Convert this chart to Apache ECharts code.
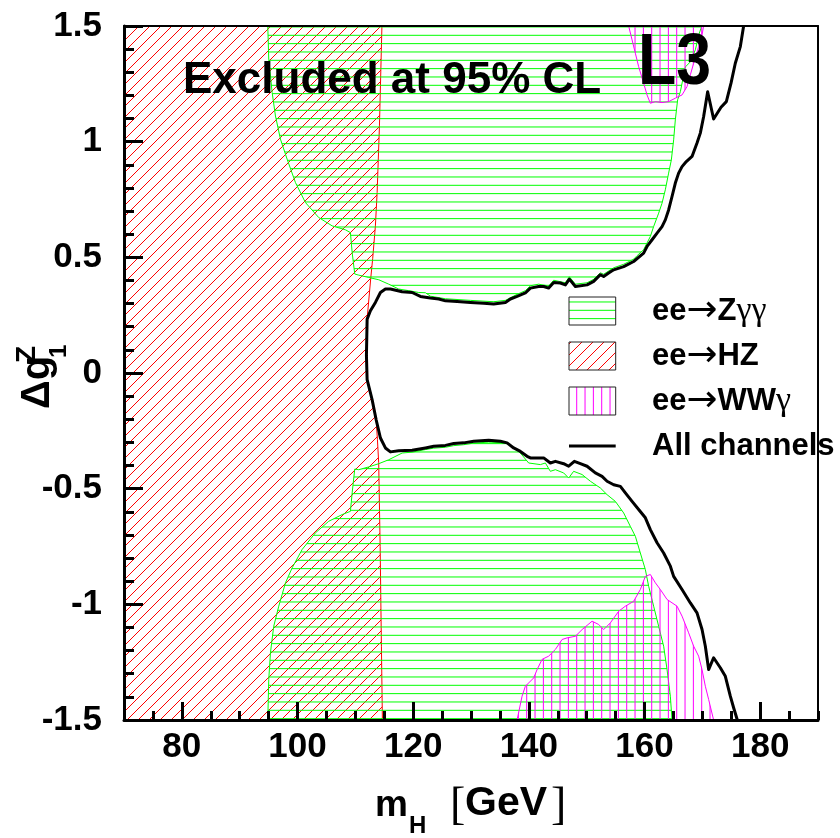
<!DOCTYPE html>
<html>
<head>
<meta charset="utf-8">
<script src="https://cdn.jsdelivr.net/npm/echarts@6/dist/echarts.min.js"></script>
<style>
html, body { margin: 0; padding: 0; background: #fff; }
#chart { width: 840px; height: 838px; }
</style>
</head>
<body>
<div id="chart"></div>
<script>
// Higgs mass axis: labelled ticks and the plotted range
const massRange = [70, 190];
const massLabelTicks = [80, 100, 120, 140, 160, 180];
const couplingRange = [-1.5, 1.5];

// ee -> HZ excluded region: mH below the right-hand contour
const hzRegion = [
  [70, 1.5], [114.6, 1.5], [114.17, 1.068], [113.77, 0.780], [113.47, 0.636],
  [113.0, 0.494], [112.66, 0.408], [112.04, 0.235], [111.92, 0.075], [112.04, -0.029],
  [112.9, -0.115], [113.6, -0.202], [113.82, -0.288], [114.04, -0.388], [114.29, -0.749],
  [114.51, -1.181], [114.68, -1.5], [70, -1.5]
];

// ee -> Z gamma gamma excluded region, positive coupling side
const zggUpper = [
  [94.86, 1.5], [169.9, 1.5], [169.48, 1.469], [168.79, 1.397], [167.93, 1.345],
  [167.06, 1.323], [166.2, 1.216], [165.73, 1.181], [165.33, 1.094], [165.04, 1.008],
  [164.64, 0.921], [164.17, 0.864], [163.6, 0.792], [163.03, 0.734], [162.45, 0.691],
  [161.58, 0.633], [161.01, 0.590], [159.85, 0.533], [158.71, 0.507], [158.12, 0.492],
  [156.4, 0.470], [154.67, 0.455], [152.94, 0.427], [152.37, 0.433], [151.21, 0.405],
  [150.07, 0.390], [148.05, 0.384], [147.01, 0.416], [146.32, 0.390], [144.3, 0.401],
  [143.43, 0.376], [141.7, 0.384], [140.27, 0.377], [139.4, 0.356], [137.97, 0.340],
  [135.95, 0.314], [133.92, 0.308], [129.9, 0.314], [125.58, 0.321], [122.98, 0.332],
  [122.12, 0.347], [120.96, 0.348], [119.23, 0.356], [117.5, 0.363], [115.77, 0.384],
  [114.05, 0.403], [112.32, 0.413], [110.59, 0.423], [109.9, 0.428], [109.45, 0.521],
  [109.15, 0.607], [108.29, 0.619], [105.99, 0.636], [103.67, 0.672], [101.37, 0.737],
  [99.65, 0.823], [98.21, 0.924], [97.05, 1.011], [96.19, 1.111], [95.62, 1.212],
  [95.03, 1.356]
];

// ee -> Z gamma gamma excluded region, negative coupling side
const zggLower = [
  [94.86, -1.5], [95.03, -1.325], [95.32, -1.210], [95.89, -1.095], [96.76, -1.008],
  [97.92, -0.907], [99.08, -0.842], [100.8, -0.763], [103.1, -0.691], [105.4, -0.641],
  [107.72, -0.612], [109.15, -0.598], [109.45, -0.518], [109.9, -0.415], [110.59, -0.418],
  [112.32, -0.406], [114.05, -0.392], [115.77, -0.375], [118.09, -0.346], [119.82, -0.342],
  [122.12, -0.331], [123.55, -0.325], [125.58, -0.321], [127.01, -0.314], [128.74, -0.310],
  [130.47, -0.303], [133.06, -0.299], [135.08, -0.301], [135.95, -0.302], [136.81, -0.310],
  [138.54, -0.346], [139.97, -0.389], [142.0, -0.396], [142.86, -0.389], [143.72, -0.425],
  [144.59, -0.418], [146.02, -0.432], [146.89, -0.454], [147.75, -0.425], [149.21, -0.439],
  [150.64, -0.468], [152.37, -0.497], [153.53, -0.526], [154.96, -0.555], [156.4, -0.605],
  [157.55, -0.663], [158.42, -0.706], [159.28, -0.778], [160.15, -0.850], [160.72, -0.922],
  [161.58, -1.008], [162.45, -1.095], [163.31, -1.181], [163.9, -1.282], [164.47, -1.397],
  [164.76, -1.5]
];

// ee -> WW gamma excluded regions
const wwgUpper = [
  [157.26, 1.5], [157.85, 1.440], [158.42, 1.382], [158.99, 1.324], [159.85, 1.253],
  [160.44, 1.202], [161.01, 1.166], [161.88, 1.173], [163.03, 1.169], [164.17, 1.173],
  [165.33, 1.188], [166.49, 1.202], [167.35, 1.238], [167.93, 1.289], [168.5, 1.339],
  [169.36, 1.411], [169.95, 1.461], [170.22, 1.5]
];
const wwgLower = [
  [137.97, -1.5], [138.83, -1.397], [139.4, -1.354], [140.84, -1.318], [141.43, -1.282],
  [142.29, -1.238], [143.43, -1.224], [144.59, -1.195], [145.75, -1.152], [146.61, -1.145],
  [148.05, -1.138], [149.21, -1.109], [150.93, -1.073], [152.07, -1.087], [152.94, -1.109],
  [154.1, -1.080], [155.53, -1.030], [156.69, -1.008], [158.12, -0.987], [159.28, -0.936],
  [160.15, -0.879], [161.01, -0.871], [161.88, -0.907], [162.74, -0.936], [163.9, -0.979],
  [165.63, -1.008], [166.49, -1.051], [167.63, -1.123], [168.5, -1.181], [169.36, -1.224],
  [169.95, -1.282], [170.52, -1.354], [171.09, -1.411], [171.95, -1.5]
];

// Combined contour of all channels (allowed region lies inside)
const allChannels = [
  [177.14, 1.5], [176.57, 1.411], [175.7, 1.339], [174.96, 1.253], [174.15, 1.173],
  [173.23, 1.149], [171.95, 1.098], [170.92, 1.216], [170.22, 1.108], [169.65, 1.037],
  [169.08, 0.994], [168.22, 0.936], [167.23, 0.914], [166.49, 0.892], [165.9, 0.864],
  [165.33, 0.821], [164.76, 0.763], [164.17, 0.705], [163.6, 0.662], [163.03, 0.633],
  [162.17, 0.605], [161.31, 0.576], [160.44, 0.547], [159.85, 0.518], [158.12, 0.482],
  [156.4, 0.460], [154.67, 0.446], [153.8, 0.432], [152.94, 0.417], [152.37, 0.425],
  [151.21, 0.396], [150.07, 0.381], [148.05, 0.374], [147.01, 0.406], [146.32, 0.381],
  [145.45, 0.389], [144.3, 0.391], [143.43, 0.367], [142.57, 0.374], [141.7, 0.374],
  [140.27, 0.367], [139.4, 0.346], [137.97, 0.331], [136.81, 0.320], [135.95, 0.305],
  [133.92, 0.298], [132.2, 0.302], [129.9, 0.305], [127.6, 0.309], [125.58, 0.312],
  [124.42, 0.320], [122.98, 0.324], [121.25, 0.331], [119.82, 0.348], [118.09, 0.351],
  [116.07, 0.363], [115.2, 0.363], [114.34, 0.348], [113.47, 0.305], [112.61, 0.269],
  [112.04, 0.233], [111.92, 0.075], [112.04, -0.029], [112.9, -0.115], [113.6, -0.202],
  [114.34, -0.281], [115.2, -0.324], [116.07, -0.341], [117.5, -0.336], [119.82, -0.334],
  [122.12, -0.324], [123.55, -0.317], [125.58, -0.313], [127.01, -0.305], [128.74, -0.302],
  [130.47, -0.295], [133.06, -0.291], [135.08, -0.295], [136.24, -0.302], [137.38, -0.324],
  [138.54, -0.339], [139.7, -0.360], [140.27, -0.367], [142.57, -0.367], [143.72, -0.389],
  [144.59, -0.382], [146.02, -0.392], [146.89, -0.403], [147.87, -0.382], [148.91, -0.392],
  [150.07, -0.403], [151.5, -0.432], [152.66, -0.447], [153.53, -0.468], [154.67, -0.483],
  [155.83, -0.490], [156.69, -0.518], [157.85, -0.555], [158.99, -0.590], [160.15, -0.626],
  [161.01, -0.677], [162.17, -0.734], [163.31, -0.778], [164.47, -0.835], [165.04, -0.879],
  [166.49, -0.936], [167.93, -0.994], [169.08, -1.037], [169.95, -1.109], [170.52, -1.181],
  [171.09, -1.282], [171.95, -1.231], [173.11, -1.274], [173.98, -1.311], [174.84, -1.397],
  [175.41, -1.447], [176.05, -1.5]
];

const legendLabels = ['{b|ee}{a|\u2192}{b|Z}{g|\u03b3\u03b3}', '{b|ee}{a|\u2192}{b|HZ}', '{b|ee}{a|\u2192}{b|WW}{g|\u03b3}', '{b|All channels}'];

// ---- hatch fills, anchored to the canvas origin ----
function hatch(w, h, draw) {
  const c = document.createElement('canvas');
  c.width = w; c.height = h;
  draw(c.getContext('2d'));
  return { image: c, repeat: 'repeat' };
}
const greenHatch = hatch(4, 25, ctx => {
  ctx.fillStyle = '#00ff00';
  [1.97, 10.3, 18.63].forEach(c => ctx.fillRect(0, c - 0.5, 4, 1));
});
const magentaHatch = hatch(25, 4, ctx => {
  ctx.fillStyle = '#ff00ff';
  [1.7, 10.03, 18.37].forEach(c => ctx.fillRect(c - 0.5, 0, 1, 4));
});
// "/" diagonals, one pixel per row
const RED_STEP = 11;
const redHatch = hatch(RED_STEP, RED_STEP, ctx => {
  ctx.fillStyle = '#ff0000';
  for (let r = 0; r < RED_STEP; r++) ctx.fillRect(RED_STEP - 1 - r, r, 1, 1);
});

function regionSeries(name, pts, fill, stroke, z) {
  return {
    type: 'custom', name, z, clip: true, silent: true,
    data: pts,
    renderItem(params, api) {
      if (params.dataIndex !== 0) return null;
      return {
        type: 'polygon',
        shape: { points: pts.map(p => api.coord(p)) },
        style: { fill, stroke, lineWidth: 1 }
      };
    }
  };
}

const SANS = '"Liberation Sans", Arial, Helvetica, sans-serif';
const SERIF = '"Liberation Serif", "Times New Roman", serif';
const tickFont = { fontFamily: SANS, fontWeight: 'bold', fontSize: 35, color: '#000' };

function txt(x, y, text, font, extra) {
  return {
    type: 'text', x, y, z: 100,
    style: Object.assign({ text, font, fill: '#000', align: 'left', verticalAlign: 'middle',
      textAlign: 'left', textVerticalAlign: 'middle' }, extra || {})
  };
}

const legendRich = {
  b: { fontFamily: SANS, fontWeight: 'bold', fontSize: 31, lineHeight: 38, color: '#000' },
  a: { fontFamily: '"DejaVu Sans", sans-serif', fontWeight: 'normal', fontSize: 37, lineHeight: 38, color: '#000' },
  g: { fontFamily: SERIF, fontWeight: 'normal', fontSize: 34, lineHeight: 38, color: '#000' }
};

const legendRows = [311, 356, 401, 446];
const legendFills = [greenHatch, redHatch, magentaHatch];
const graphics = [];
legendFills.forEach((f, i) => {
  graphics.push({ type: 'rect', z: 100, shape: { x: 569, y: legendRows[i] - 14, width: 46.7, height: 28 },
    style: { fill: f, stroke: '#222', lineWidth: 1 } });
});
graphics.push({ type: 'line', z: 100, shape: { x1: 569, y1: legendRows[3], x2: 615.7, y2: legendRows[3] },
  style: { stroke: '#000', lineWidth: 3 } });
legendLabels.forEach((t, i) => {
  graphics.push({ type: 'text', x: 652, y: legendRows[i], z: 100,
    style: { text: t, rich: legendRich, align: 'left', verticalAlign: 'middle', textAlign: 'left', textVerticalAlign: 'middle' } });
});
// plot annotations
graphics.push(txt(183, 81, 'Excluded at 95% CL', 'bold 44px ' + SANS));
graphics.push(Object.assign(txt(638, 64.5, 'L3', 'bold 72px ' + SANS), { scaleX: 0.87 }));
// x-axis title: m_H [GeV]
graphics.push(txt(375, 805.5, 'm', 'bold 37px ' + SANS));
graphics.push(txt(409, 826.7, 'H', 'bold 24px ' + SANS));
graphics.push(txt(450, 806.5, '[', 'normal 46px ' + SERIF));
graphics.push(txt(465, 804, 'GeV', 'bold 41px ' + SANS));
graphics.push(txt(551, 806.5, ']', 'normal 46px ' + SERIF));
// y-axis title: delta g1^Z, reading upwards
graphics.push(Object.assign(txt(38, 409, '\u0394g', 'bold 40px ' + SANS), { rotation: Math.PI / 2 }));
graphics.push(Object.assign(txt(59.7, 358, '1', 'bold 24px ' + SANS), { rotation: Math.PI / 2 }));
graphics.push(Object.assign(txt(27.5, 363, 'Z', 'bold 28px ' + SANS), { rotation: Math.PI / 2 }));

const chart = echarts.init(document.getElementById('chart'), null, { renderer: 'canvas' });
chart.setOption({
  animation: false,
  backgroundColor: '#fff',
  grid: { left: 124, right: 22, top: 26, bottom: 118, show: false },
  xAxis: [
    { // minor ticks every 5 GeV
      type: 'value', min: massRange[0], max: massRange[1], interval: 5, z: 20,
      axisLine: { onZero: false, lineStyle: { color: '#000', width: 3 } },
      axisTick: { inside: true, length: 9, lineStyle: { color: '#000', width: 3 } },
      axisLabel: { show: false }, splitLine: { show: false }
    },
    { // labelled ticks
      type: 'value', min: massRange[0], max: massRange[1], position: 'bottom', z: 20,
      axisLine: { show: false, onZero: false },
      axisTick: { inside: true, length: 18, customValues: massLabelTicks, lineStyle: { color: '#000', width: 3 } },
      axisLabel: Object.assign({ customValues: massLabelTicks, margin: 10 }, tickFont),
      splitLine: { show: false }
    },
    { // top frame
      type: 'value', min: massRange[0], max: massRange[1], position: 'top', z: 20,
      axisLine: { onZero: false, lineStyle: { color: '#000', width: 2 } },
      axisTick: { show: false }, axisLabel: { show: false }, splitLine: { show: false }
    }
  ],
  yAxis: [
    {
      type: 'value', min: couplingRange[0], max: couplingRange[1], interval: 0.5, z: 20,
      axisLine: { onZero: false, lineStyle: { color: '#000', width: 3 } },
      axisTick: { inside: true, length: 19, lineStyle: { color: '#000', width: 3 } },
      minorTick: { show: true, splitNumber: 5, length: 10, lineStyle: { color: '#000', width: 3 } },
      axisLabel: Object.assign({ margin: 22, showMinLabel: true, showMaxLabel: true }, tickFont),
      splitLine: { show: false }, minorSplitLine: { show: false }
    },
    { // right frame
      type: 'value', min: couplingRange[0], max: couplingRange[1], position: 'right', z: 20,
      axisLine: { onZero: false, lineStyle: { color: '#000', width: 2 } },
      axisTick: { show: false }, axisLabel: { show: false }, splitLine: { show: false }
    }
  ],
  series: [
    regionSeries('ee\u2192HZ', hzRegion, redHatch, '#ff0000', 2),
    regionSeries('ee\u2192Z\u03b3\u03b3 (+)', zggUpper, greenHatch, '#00ff00', 3),
    regionSeries('ee\u2192Z\u03b3\u03b3 (\u2212)', zggLower, greenHatch, '#00ff00', 3),
    regionSeries('ee\u2192WW\u03b3 (+)', wwgUpper, magentaHatch, '#ff00ff', 4),
    regionSeries('ee\u2192WW\u03b3 (\u2212)', wwgLower, magentaHatch, '#ff00ff', 4),
    {
      type: 'line', name: 'All channels', data: allChannels, z: 5,
      symbol: 'none', showSymbol: false, clip: true, silent: true,
      lineStyle: { color: '#000', width: 3, join: 'round' }
    }
  ],
  graphic: { elements: graphics }
});
</script>
</body>
</html>
